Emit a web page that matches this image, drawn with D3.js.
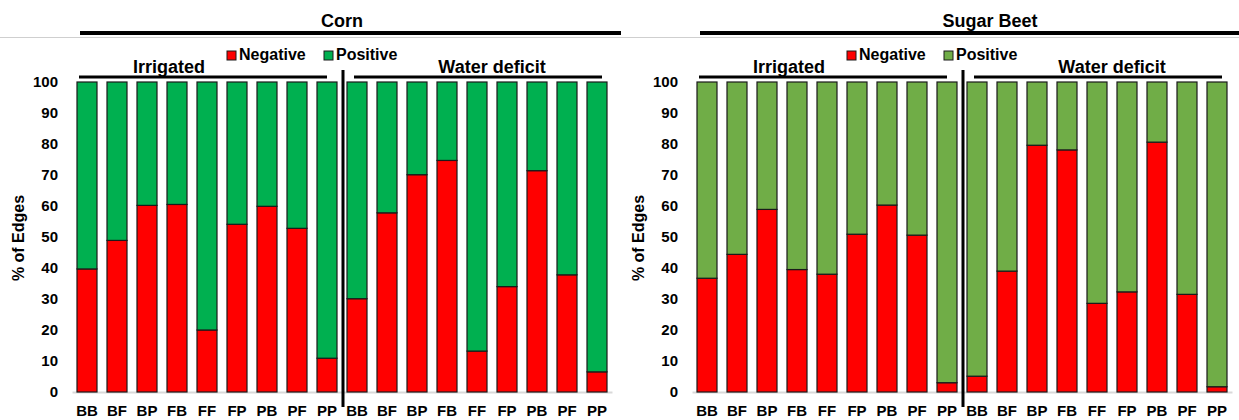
<!DOCTYPE html>
<html>
<head>
<meta charset="utf-8">
<script src="https://cdn.jsdelivr.net/npm/d3@7"></script>
<style>
  body { margin: 0; background: #fff; }
  text { font-family: "Liberation Sans", Arial, sans-serif; font-weight: bold; fill: #000; }
</style>
</head>
<body>
<div id="chart"></div>
<script>
// categories
const pairs = ['BB', 'BF', 'BP', 'FB', 'FF', 'FP', 'PB', 'PF', 'PP'];
const conditions = ['Irrigated', 'Water deficit'];
const yTicks = [0, 10, 20, 30, 40, 50, 60, 70, 80, 90, 100];

// % of edges, irrigated (9) then water deficit (9)
const cornNegative = [39.7, 48.9, 60.2, 60.5, 20.0, 54.1, 59.9, 52.8, 10.9,
                      30.1, 57.8, 70.1, 74.7, 13.2, 34.0, 71.4, 37.8, 6.5];
const cornPositive = [60.3, 51.1, 39.8, 39.5, 80.0, 45.9, 40.1, 47.2, 89.1,
                      69.9, 42.2, 29.9, 25.3, 86.8, 66.0, 28.6, 62.2, 93.5];
const beetNegative = [36.7, 44.4, 58.9, 39.5, 38.0, 50.9, 60.3, 50.6, 3.0,
                      5.1, 39.0, 79.6, 78.1, 28.6, 32.3, 80.6, 31.5, 1.7];
const beetPositive = [63.3, 55.6, 41.1, 60.5, 62.0, 49.1, 39.7, 49.4, 97.0,
                      94.9, 61.0, 20.4, 21.9, 71.4, 67.7, 19.4, 68.5, 98.3];

const W = 1239, H = 420;
const svg = d3.select('#chart').append('svg')
  .attr('width', W)
  .attr('height', H);

// thin grey rule under the titles
svg.append('line')
  .attr('x1', 0).attr('x2', W)
  .attr('y1', 37.5).attr('y2', 37.5)
  .attr('stroke', '#cfcfcf')
  .attr('stroke-width', 1);

const panels = [
  { title: 'Corn', ox: 0, titleX: 342, neg: cornNegative, pos: cornPositive, green: '#00B050' },
  { title: 'Sugar Beet', ox: 620, titleX: 990, neg: beetNegative, pos: beetPositive, green: '#70AD47' }
];

const keys = ['negative', 'positive'];

panels.forEach(function (p) {
  const g = svg.append('g');
  const ox = p.ox;

  const x = d3.scaleBand()
    .domain(d3.range(18))
    .range([ox + 72, ox + 612])
    .paddingInner(1 / 3)
    .paddingOuter(1 / 6);
  const y = d3.scaleLinear()
    .domain([0, 100])
    .range([392, 82]);
  const bw = x.bandwidth();

  const color = d3.scaleOrdinal(keys, ['#FF0000', p.green]);

  const rows = d3.range(18).map(i => ({ i: i, negative: p.neg[i], positive: p.pos[i] }));
  const series = d3.stack().keys(keys)(rows);

  // title + thick rule
  g.append('text')
    .attr('x', p.titleX)
    .attr('y', 27)
    .attr('text-anchor', 'middle')
    .style('font-size', '18px')
    .text(p.title);
  g.append('line')
    .attr('x1', ox + 80).attr('x2', ox + 621)
    .attr('y1', 33).attr('y2', 33)
    .attr('stroke', '#000')
    .attr('stroke-width', 4);

  // x axis (grey baseline + pair labels)
  const xAxis = g.append('g')
    .attr('transform', 'translate(0,392)')
    .call(d3.axisBottom(x).tickSize(0).tickSizeOuter(0).tickPadding(13)
      .tickFormat(i => pairs[i % 9]));
  xAxis.select('.domain').attr('stroke', '#d9d9d9').attr('stroke-width', 2);
  xAxis.selectAll('text')
    .style('font-size', '15px')
    .style('font-family', '"Liberation Sans", Arial, sans-serif')
    .style('font-weight', 'bold');

  // y axis
  const yAxis = g.append('g')
    .attr('transform', 'translate(' + (ox + 72) + ',0)')
    .call(d3.axisLeft(y).tickValues(yTicks).tickSize(0).tickPadding(14));
  yAxis.select('.domain').remove();
  yAxis.selectAll('text')
    .style('font-size', '15px')
    .style('font-family', '"Liberation Sans", Arial, sans-serif')
    .style('font-weight', 'bold');

  g.append('text')
    .attr('transform', 'translate(' + (ox + 24) + ',238) rotate(-90)')
    .attr('text-anchor', 'middle')
    .style('font-size', '16px')
    .text('% of Edges');

  // stacked bars
  g.selectAll('g.series')
    .data(series)
    .enter()
    .append('g')
    .attr('class', 'series')
    .attr('fill', d => color(d.key))
    .selectAll('rect')
    .data(d => d)
    .enter()
    .append('rect')
    .attr('x', d => x(d.data.i))
    .attr('y', d => y(d[1]))
    .attr('width', bw)
    .attr('height', d => y(d[0]) - y(d[1]))
    .attr('stroke', '#1a1a1a')
    .attr('stroke-width', 1.2);

  // divider between conditions
  const divX = (x(8) + bw + x(9)) / 2 + 1;
  g.append('line')
    .attr('x1', divX).attr('x2', divX)
    .attr('y1', 70).attr('y2', 407)
    .attr('stroke', '#000')
    .attr('stroke-width', 3);

  // condition group rules and labels
  const groups = [
    { label: conditions[0], x1: x(0) + 2, x2: x(8) + bw / 2, tx: x(0) + 92 },
    { label: conditions[1], x1: x(9) + 7, x2: x(17) + bw / 2 + 5, tx: x(9) + 145 }
  ];
  groups.forEach(function (c) {
    g.append('line')
      .attr('x1', c.x1).attr('x2', c.x2)
      .attr('y1', 77).attr('y2', 77)
      .attr('stroke', '#000')
      .attr('stroke-width', 3);
    g.append('text')
      .attr('x', c.tx)
      .attr('y', 73)
      .attr('text-anchor', 'middle')
      .style('font-size', '18px')
      .text(c.label);
  });

  // legend
  const legendItems = [
    { key: 'negative', label: 'Negative', sx: ox + 227 },
    { key: 'positive', label: 'Positive', sx: ox + 324 }
  ];
  legendItems.forEach(function (l) {
    g.append('rect')
      .attr('x', l.sx).attr('y', 51)
      .attr('width', 9).attr('height', 9)
      .attr('fill', color(l.key))
      .attr('stroke', '#1a1a1a')
      .attr('stroke-width', 1);
    g.append('text')
      .attr('x', l.sx + 12)
      .attr('y', 60)
      .style('font-size', '16px')
      .text(l.label);
  });
});
</script>
</body>
</html>
